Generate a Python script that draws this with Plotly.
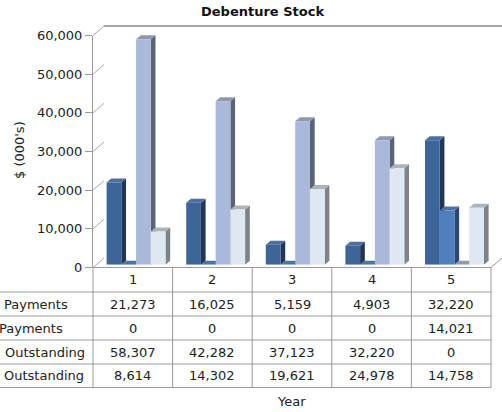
import plotly.graph_objects as go

# ---------------- data ----------------
years = ["1", "2", "3", "4", "5"]
series_names = ["Principal Payments", "Interest Payments",
                "Principal Outstanding", "Interest Outstanding"]
row_labels = ["Payments", "Payments", "Outstanding", "Outstanding"]
principal_payments = [21273, 16025, 5159, 4903, 32220]
interest_payments = [0, 0, 0, 0, 14021]
principal_outstanding = [58307, 42282, 37123, 32220, 0]
interest_outstanding = [8614, 14302, 19621, 24978, 14758]
y_ticks = [0, 10000, 20000, 30000, 40000, 50000, 60000]

series_values = [principal_payments, interest_payments,
                 principal_outstanding, interest_outstanding]

# ---------------- styling ----------------
W, H = 502, 412
FONT = "DejaVu Sans"
front_cols = ["#3d6598", "#4f7fbd", "#aab9d9", "#dfe8f0"]
side_cols = ["#213656", "#2b4670", "#5b6377", "#7d8387"]
top_cols = ["#4a6fa2", "#4a74a8", "#8e98b3", "#aab4bc"]
GRID = "#a8a8a8"
LINE = "#9a9a9a"
TXT = "#222222"

YMAX = 60000
BARGAP = 0.26


def fx(p):
    return p / W


def fy(p):
    return 1 - p / H


# pixel geometry of the three planes (front axis, bar plane, back wall)
FX0, FX1, FYT, FYB = 93, 491, 35.5, 267.5
BACK_DX, BACK_DY = 11, -9.5
BAR_DX, BAR_DY = 3.25, -2.7
PX_PER_X = (FX1 - FX0) / len(years)
PX_PER_Y = (FYB - FYT) / YMAX
DEPTH_PX_X, DEPTH_PX_Y = 4.7, 4.0

fig = go.Figure()

# bars (front faces) on the bar plane axes x2/y2
xs = list(range(1, len(years) + 1))
for name, vals, col in zip(series_names, series_values, front_cols):
    fig.add_trace(go.Bar(x=xs, y=vals, name=name, marker=dict(color=col, line=dict(width=0)),
                         xaxis="x2", yaxis="y2", hoverinfo="skip", showlegend=False))

# 3D sides / tops of each bar (data coordinates on x2/y2)
shapes = []
nser = len(series_values)
bw = (1 - BARGAP) / nser
ddx = DEPTH_PX_X / PX_PER_X
ddy = DEPTH_PX_Y / PX_PER_Y
for ci, xc in enumerate(xs):
    for si in range(nser):
        v = series_values[si][ci]
        x0 = xc - (1 - BARGAP) / 2 + si * bw
        x1 = x0 + bw
        if v > 0:
            shapes.append(dict(type="path", xref="x2", yref="y2", layer="below",
                               path=f"M{x1},0 L{x1+ddx},{ddy} L{x1+ddx},{v+ddy} L{x1},{v} Z",
                               fillcolor=side_cols[si], line=dict(width=0)))
        shapes.append(dict(type="path", xref="x2", yref="y2", layer="below",
                           path=f"M{x0},{v} L{x0+ddx},{v+ddy} L{x1+ddx},{v+ddy} L{x1},{v} Z",
                           fillcolor=top_cols[si], line=dict(width=0)))

# left wall diagonals
for t in y_ticks:
    yf = FYB - t * PX_PER_Y
    yb = yf + BACK_DY
    shapes.append(dict(type="line", xref="paper", yref="paper", layer="below",
                       x0=fx(FX0), y0=fy(yf), x1=fx(FX0 + BACK_DX), y1=fy(yb),
                       line=dict(color=GRID, width=1)))
# top edge of back wall (darker)
shapes.append(dict(type="line", xref="paper", yref="paper", layer="above",
                   x0=fx(FX0 + BACK_DX), y0=fy(FYT + BACK_DY), x1=1, y1=fy(FYT + BACK_DY),
                   line=dict(color="#8a8a8a", width=1.6)))
# floor right edge
shapes.append(dict(type="line", xref="paper", yref="paper", layer="above",
                   x0=fx(FX1), y0=fy(FYB), x1=fx(FX1 + BACK_DX), y1=fy(FYB + BACK_DY),
                   line=dict(color=LINE, width=1)))

# data table grid
row_lines = [267.5, 292, 316, 340, 364, 387.5]
for i, yl in enumerate(row_lines):
    shapes.append(dict(type="line", xref="paper", yref="paper", layer="above",
                       x0=fx(FX0) if i == 0 else 0, x1=fx(FX1), y0=fy(yl), y1=fy(yl),
                       line=dict(color=LINE, width=1)))
for k in range(len(years) + 1):
    xl = FX0 + k * PX_PER_X
    shapes.append(dict(type="line", xref="paper", yref="paper", layer="above",
                       x0=fx(xl), x1=fx(xl), y0=fy(row_lines[0]), y1=fy(row_lines[-1]),
                       line=dict(color=LINE, width=1)))

annotations = []
row_centres = [(row_lines[i] + row_lines[i + 1]) / 2 for i in range(len(row_lines) - 1)]
cell_font = dict(family=FONT, size=13, color=TXT)
for xi, yr in zip(xs, years):
    annotations.append(dict(x=xi, xref="x3", y=fy(row_centres[0]), yref="paper", text=yr,
                            xanchor="center", yanchor="middle", showarrow=False,
                            font=cell_font))
for r, vals in enumerate(series_values):
    for xi, v in zip(xs, vals):
        annotations.append(dict(x=xi, xref="x3", y=fy(row_centres[r + 1]), yref="paper",
                                text=f"{v:,}", xanchor="center", yanchor="middle",
                                showarrow=False, font=cell_font))
label_right = [69.5, 64.5, 86.5, 85.5]
for r, name in enumerate(row_labels):
    annotations.append(dict(x=fx(label_right[r]), xref="paper", xanchor="right",
                            y=fy(row_centres[r + 1]), yref="paper", yanchor="middle",
                            text=name, showarrow=False, font=cell_font))

annotations.append(dict(x=fx(262.5), y=fy(12), xref="paper", yref="paper",
                        xanchor="center", yanchor="middle",
                        text="<b>Debenture Stock</b>", showarrow=False,
                        font=dict(family=FONT, size=13, color="#111111")))
annotations.append(dict(x=fx(19), y=fy(150), xref="paper", yref="paper",
                        xanchor="center", yanchor="middle",
                        text="$ (000's)", textangle=-90, showarrow=False, font=cell_font))
annotations.append(dict(x=fx(291), y=fy(401), xref="paper", yref="paper",
                        xanchor="center", yanchor="middle",
                        text="Year", showarrow=False, font=cell_font))

xr = [0.5, len(years) + 0.5]
fig.update_layout(
    width=W, height=H,
    margin=dict(l=0, r=0, t=0, b=0, autoexpand=False),
    paper_bgcolor="white", plot_bgcolor="rgba(0,0,0,0)",
    barmode="group", bargap=BARGAP, bargroupgap=0,
    showlegend=False,
    # back wall
    xaxis=dict(domain=[fx(FX0 + BACK_DX), fx(FX1 + BACK_DX)], range=xr, visible=False,
               anchor="y", automargin=False),
    yaxis=dict(domain=[fy(FYB + BACK_DY), fy(FYT + BACK_DY)], range=[0, YMAX],
               tickvals=y_ticks, showticklabels=False, ticks="", showgrid=True,
               gridcolor=GRID, gridwidth=1, showline=True, linecolor=LINE, linewidth=1,
               zeroline=False, anchor="x", automargin=False),
    # bar plane
    xaxis2=dict(domain=[fx(FX0 + BAR_DX), fx(FX1 + BAR_DX)], range=xr, visible=False,
                anchor="y2", automargin=False),
    yaxis2=dict(domain=[fy(FYB + BAR_DY), fy(FYT + BAR_DY)], range=[0, YMAX], visible=False,
                anchor="x2", automargin=False),
    # front axis
    xaxis3=dict(domain=[fx(FX0), fx(FX1)], range=xr, visible=False, anchor="y3",
                automargin=False),
    yaxis3=dict(domain=[fy(FYB), fy(FYT)], range=[0, YMAX], tickvals=y_ticks,
                tickformat=",", ticks="outside", ticklen=7, tickcolor=LINE,
                showline=True, linecolor=LINE, linewidth=1, showgrid=False, zeroline=False,
                tickfont=dict(family=FONT, size=13, color=TXT), anchor="x3",
                automargin=False),
    shapes=shapes,
    annotations=annotations,
)

fig.write_html(
    "out.html",
    config={"displayModeBar": False, "staticPlot": True},
    post_script="document.body.style.margin='0';document.body.style.overflow='hidden';",
)
